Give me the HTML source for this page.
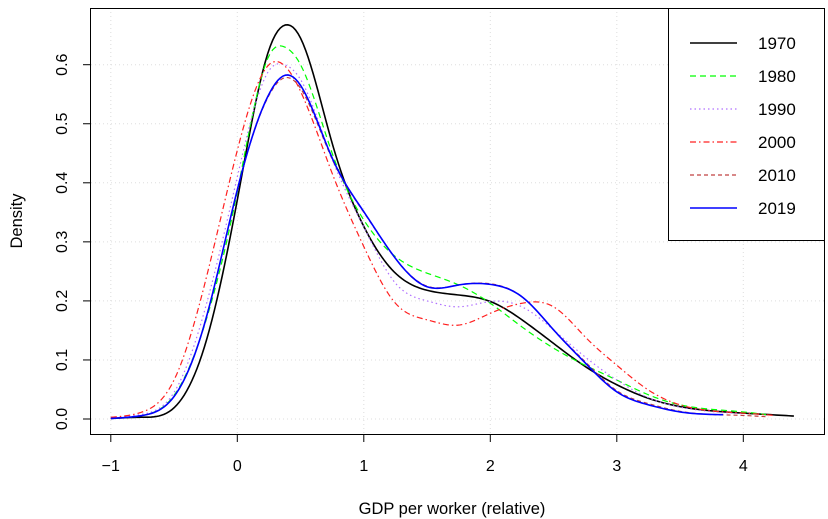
<!DOCTYPE html>
<html><head><meta charset="utf-8"><style>
body{margin:0;background:#fff}
svg{display:block;font-family:"Liberation Sans",Arial,sans-serif}
</style></head><body>
<svg id="chart" width="828" height="519" viewBox="0 0 828 519" xmlns="http://www.w3.org/2000/svg">
<g id="grid"></g>
<g id="series"></g>
<rect x="90.5" y="8.5" width="734" height="426" fill="none" stroke="#000" stroke-width="1"/>
<g id="axes"></g>
<text x="452" y="514" font-size="16.5" text-anchor="middle">GDP per worker (relative)</text>
<text transform="translate(22,221) rotate(-90)" font-size="16.5" text-anchor="middle">Density</text>
<g id="legend">
<rect x="668.5" y="8.5" width="156" height="232" fill="#fff" stroke="#000"/>
</g>
</svg>
<script>
const xGrid=[-1,-0.75,-0.5,-0.25,0,0.25,0.375,0.5,0.75,1,1.25,1.5,1.75,2,2.25,2.5,2.75,3,3.25,3.5,4,4.4];
const seriesNames=["1970","1980","1990","2000","2010","2019"];
const d1970=[0.001,0.003,0.019,0.129,0.371,0.625,0.667,0.645,0.467,0.326,0.247,0.218,0.21,0.199,0.168,0.128,0.089,0.058,0.035,0.021,0.010,0.005];
const d1980=[0.001,0.006,0.04,0.165,0.385,0.615,0.63,0.60,0.45,0.337,0.275,0.247,0.227,0.196,0.156,0.12,0.091,0.066,0.041,0.024,0.012,null];
const d1990=[0.002,0.008,0.045,0.19,0.41,0.59,0.60,0.575,0.44,0.325,0.23,0.20,0.19,0.199,0.19,0.151,0.105,0.066,0.036,0.02,0.009,null];
const d2000=[0.003,0.012,0.066,0.235,0.455,0.60,0.598,0.555,0.416,0.292,0.196,0.168,0.159,0.179,0.196,0.19,0.139,0.091,0.049,0.024,0.010,null];
const d2010=[0.001,0.006,0.038,0.168,0.388,0.548,0.578,0.56,0.44,0.35,0.272,0.225,0.227,0.229,0.207,0.151,0.097,0.048,0.026,0.013,0.006,null];
const d2019=[0.001,0.006,0.038,0.168,0.388,0.55,0.582,0.565,0.442,0.351,0.272,0.224,0.227,0.228,0.207,0.151,0.095,0.046,0.024,0.012,null,null];
const seriesData=[d1970,d1980,d1990,d2000,d2010,d2019];
const seriesEnd=[4.4,4.19,4.0,4.25,4.2,3.85];
const xTicks=[-1,0,1,2,3,4];
const yTicks=[0,0.1,0.2,0.3,0.4,0.5,0.6];
const colors=["#000","#00ff00","#b070ff","#ff2020","#c04040","#0000ff"];
const dashes=["","6,4","1.5,3","6,3,1.5,3","4,3",""];
const NS="http://www.w3.org/2000/svg";
const X=v=>237.3+v*126.5, Y=v=>419-v*590.5;
function mk(tag,attrs,parent){const e=document.createElementNS(NS,tag);for(const k in attrs)e.setAttribute(k,attrs[k]);parent.appendChild(e);return e;}
const grid=document.getElementById('grid'),axes=document.getElementById('axes'),ser=document.getElementById('series'),leg=document.getElementById('legend');
xTicks.forEach(t=>{
 const g=mk('line',{x1:X(t),x2:X(t),y1:8,y2:434,stroke:'#ddd','stroke-dasharray':'1,3'},grid);
 
 const tk=mk('line',{x1:X(t),x2:X(t),y1:434.5,y2:442,stroke:'#000'},axes);
 
 const tx=mk('text',{x:X(t),y:471,'font-size':16,'text-anchor':'middle'},axes);
 tx.textContent=(t<0?'\u2212'+(-t):String(t));
 
});
yTicks.forEach(t=>{
 const g=mk('line',{x1:91,x2:824,y1:Y(t),y2:Y(t),stroke:'#ddd','stroke-dasharray':'1,3'},grid);
 
 const tk=mk('line',{x1:83,x2:90.5,y1:Y(t),y2:Y(t),stroke:'#000'},axes);
 
 const tx=mk('text',{transform:`translate(67,${Y(t)}) rotate(-90)`,'font-size':16,'text-anchor':'middle'},axes);
 tx.textContent=t.toFixed(1);
 
});
function spline(xs,ys){
 const n=xs.length,h=[],a=[],l=[1],mu=[0],z=[0],c=new Array(n).fill(0),b=[],d=[];
 for(let i=0;i<n-1;i++)h[i]=xs[i+1]-xs[i];
 for(let i=1;i<n-1;i++)a[i]=3/h[i]*(ys[i+1]-ys[i])-3/h[i-1]*(ys[i]-ys[i-1]);
 for(let i=1;i<n-1;i++){l[i]=2*(xs[i+1]-xs[i-1])-h[i-1]*mu[i-1];mu[i]=h[i]/l[i];z[i]=(a[i]-h[i-1]*z[i-1])/l[i];}
 for(let j=n-2;j>=0;j--){c[j]=(j<n-1&&j>0)?z[j]-mu[j]*c[j+1]:(j==0?0:c[j]);b[j]=(ys[j+1]-ys[j])/h[j]-h[j]*(c[j+1]+2*c[j])/3;d[j]=(c[j+1]-c[j])/(3*h[j]);}
 return x=>{let i=0;while(i<n-2&&x>xs[i+1])i++;const t=x-xs[i];return ys[i]+b[i]*t+c[i]*t*t+d[i]*t*t*t;};
}
seriesData.forEach((arr,i)=>{
 const xs=[],ys=[];
 arr.forEach((v,j)=>{if(v!==null&&xGrid[j]<=seriesEnd[i]){xs.push(xGrid[j]);ys.push(v);}});
 if(xs[xs.length-1]<seriesEnd[i]){xs.push(seriesEnd[i]);ys.push(ys[ys.length-1]*0.6);}
 const f=spline(xs,ys);
 let d='';
 for(let x=xs[0];x<=seriesEnd[i]+1e-9;x+=0.02){d+=(d?'L':'M')+X(x).toFixed(2)+','+Y(Math.max(0,f(x))).toFixed(2);}
 const p=mk('path',{d:d,fill:'none',stroke:colors[i],'stroke-width':i==0||i==5?1.6:1.2,'stroke-dasharray':dashes[i]},ser);
 
 const y=43+i*33;
 const l=mk('line',{x1:690,x2:737,y1:y,y2:y,stroke:colors[i],'stroke-width':i==0||i==5?1.6:1.2,'stroke-dasharray':dashes[i]},leg);
 
 const t=mk('text',{x:758,y:y+6,'font-size':17},leg);t.textContent=seriesNames[i];
 
});
</script>
</body></html>
